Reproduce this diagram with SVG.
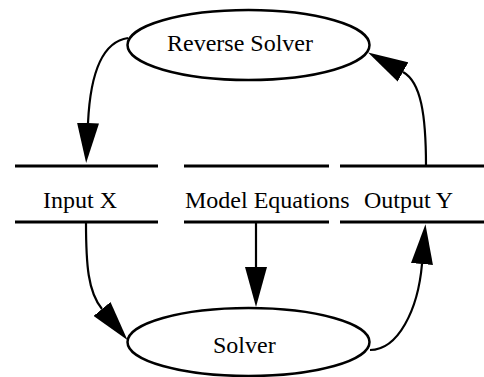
<svg xmlns="http://www.w3.org/2000/svg" width="484" height="377" viewBox="0 0 484 377">
<style>
.node ellipse{fill:#fff;stroke:#000;stroke-width:2.5}
.bar{stroke:#000;stroke-width:3}
text{font-family:"Liberation Serif","Times New Roman",serif;font-size:24px;fill:#000}
.edge{fill:none;stroke:#000;stroke-width:2.2}
</style>
<defs>
<marker id="ah" viewBox="0 0 40 22" refX="0" refY="11" markerWidth="40" markerHeight="22" markerUnits="userSpaceOnUse" orient="auto">
<path d="M0,0 L40,11 L0,22 z" fill="#000"/>
</marker>
</defs>
<g id="connectors">
<path class="edge" d="M128,38 C100,42 90,80 88,123" marker-end="url(#ah)"/>
<path class="edge" d="M426,166 C426,115 421,82 403,72" marker-end="url(#ah)"/>
<path class="edge" d="M86,222 C86,265 88,292 102,309" marker-end="url(#ah)"/>
<path class="edge" d="M256,222 L256,267" marker-end="url(#ah)"/>
<path class="edge" d="M370,350 C398,350 418,310 422,264" marker-end="url(#ah)"/>
</g>
<g id="reverse-solver" class="node">
<ellipse cx="248.5" cy="45" rx="121" ry="35"/>
<text x="167" y="51">Reverse Solver</text>
</g>
<g id="input-x">
<line class="bar" x1="15" y1="166" x2="158" y2="166"/>
<line class="bar" x1="15" y1="222" x2="158" y2="222"/>
<text x="43" y="208">Input X</text>
</g>
<g id="model-equations">
<line class="bar" x1="184" y1="166" x2="329" y2="166"/>
<line class="bar" x1="184" y1="222" x2="329" y2="222"/>
<text x="185" y="208">Model Equations</text>
</g>
<g id="output-y">
<line class="bar" x1="340" y1="166" x2="484" y2="166"/>
<line class="bar" x1="340" y1="222" x2="484" y2="222"/>
<text x="364" y="208">Output Y</text>
</g>
<g id="solver" class="node">
<ellipse cx="248.5" cy="342" rx="121" ry="34"/>
<text x="213" y="353">Solver</text>
</g>
</svg>
